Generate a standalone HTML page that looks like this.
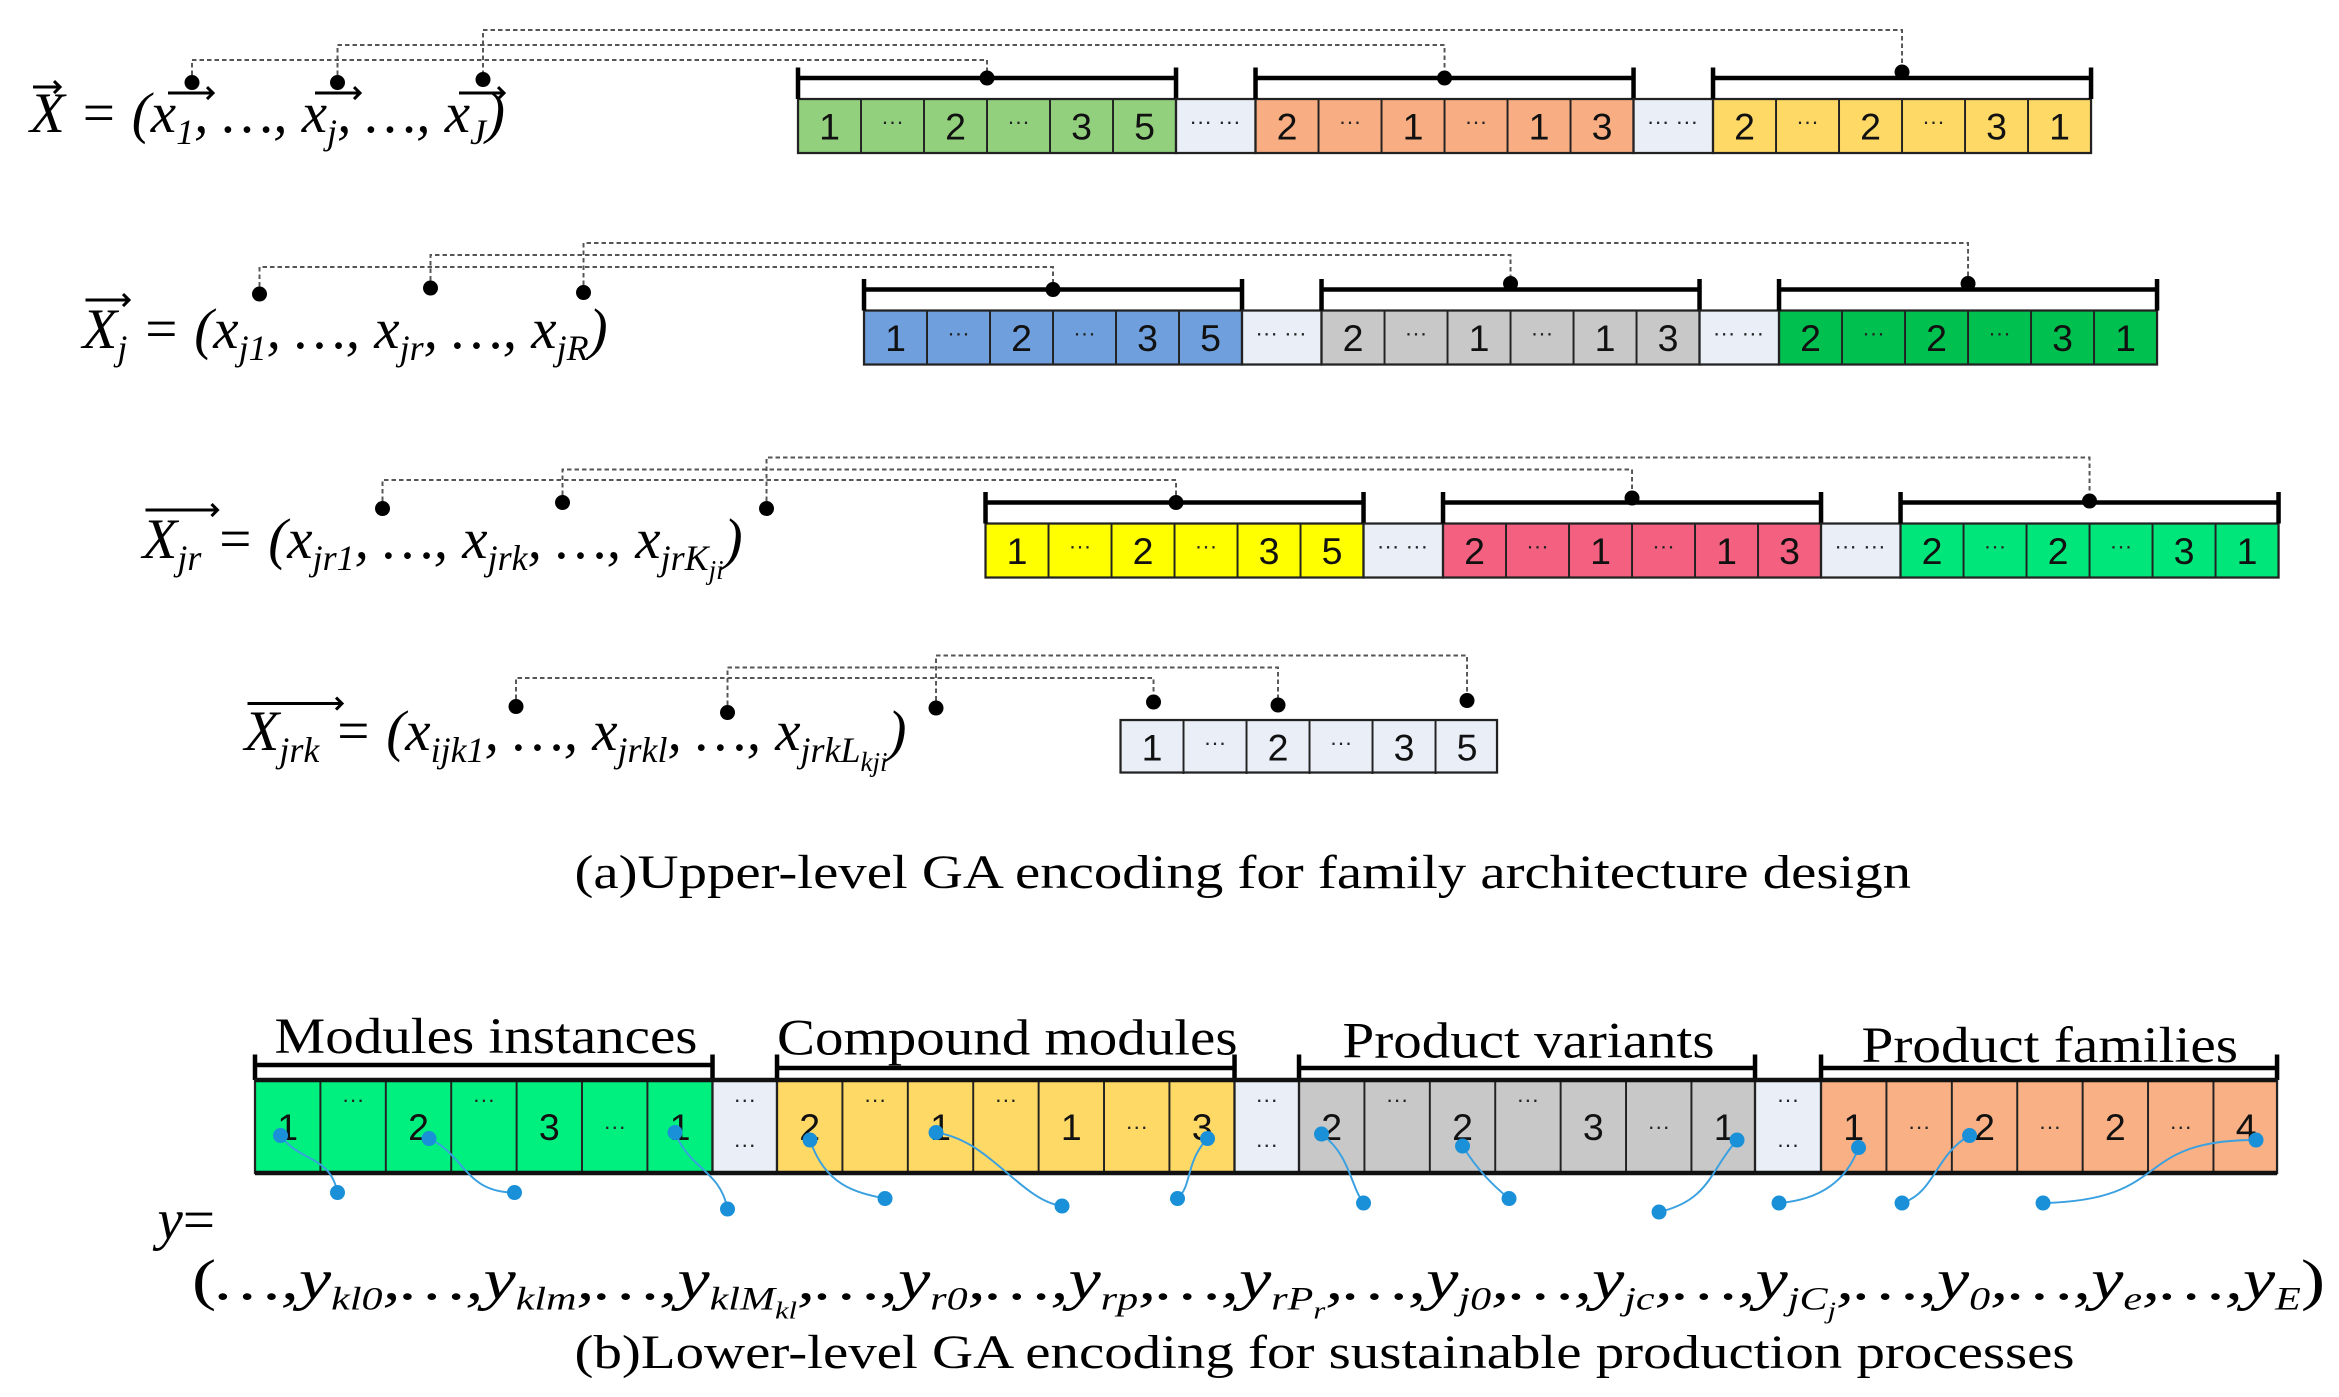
<!DOCTYPE html>
<html><head><meta charset="utf-8"><style>
html,body{margin:0;padding:0;background:#fff;}
svg{display:block;}
.n{font-family:"Liberation Sans",sans-serif;font-size:25px;text-anchor:middle;fill:#111;}
.d{font-family:"Liberation Sans",sans-serif;font-size:15px;text-anchor:middle;fill:#222;}
.f{font-family:"Liberation Serif",serif;font-style:italic;font-size:38px;fill:#000;}
.c{font-family:"Liberation Serif",serif;font-size:32px;fill:#000;}
.h{font-family:"Liberation Serif",serif;font-size:34px;fill:#000;}
.g rect{stroke:#222;stroke-width:1.5;}
.gl{stroke:#222;stroke-width:1.3;}
.br{stroke:#000;stroke-width:3;fill:none;}
.dt{stroke:#555;stroke-width:1.3;stroke-dasharray:3 2;fill:none;}
.bl{stroke:#3aa0e0;stroke-width:1.3;fill:none;}
</style></head><body>
<svg width="2339" height="1397" viewBox="0 0 1559.3 931.3" xmlns="http://www.w3.org/2000/svg">
<defs>
<path id="grid6" class="gl" stroke="#222" stroke-width="1.3" d="M42,0V36M84,0V36M126,0V36M168,0V36M210,0V36"/>
<path id="brk" class="br" stroke="#000" stroke-width="3" fill="none" d="M0,-21V0M0,-14H252M252,-21V0"/>
<path id="grid7" class="gl" stroke="#222" stroke-width="1.3" d="M43.6,0V62M87.2,0V62M130.8,0V62M174.4,0V62M218,0V62M261.6,0V62"/>
</defs>

<!-- ROW 1 -->
<text class="f" x="20" y="88">X = (x<tspan font-size="24" dy="8">1</tspan><tspan dy="-8">, …, x</tspan><tspan font-size="24" dy="8">j</tspan><tspan dy="-8">, …, x</tspan><tspan font-size="24" dy="8">J</tspan><tspan dy="-8">)</tspan></text>
<path d="M22,58H40M36,54L40,58L36,62M112,62H142M138,58L142,62L138,66M210,62H240M236,58L240,62L236,66M306,62H336M332,58L336,62L332,66" stroke="#000" stroke-width="2" fill="none"/>
<path class="dt" d="M128,55V40H658V52M225,55V30H963V52M322,55V20H1268V48"/>
<circle cx="128" cy="55" r="5"/><circle cx="225" cy="55" r="5"/><circle cx="322" cy="53" r="5"/>
<g class="g" transform="translate(532,66)"><rect width="252" height="36" fill="#92d07e"/><use href="#grid6"/><use href="#brk"/><circle cx="126" cy="-14" r="5"/>
<text class="n" x="21" y="27">1</text><text class="d" x="63" y="20">···</text><text class="n" x="105" y="27">2</text><text class="d" x="147" y="20">···</text><text class="n" x="189" y="27">3</text><text class="n" x="231" y="27">5</text></g>
<g class="g" transform="translate(784,66)"><rect width="53" height="36" fill="#e9eef7"/><text class="d" x="26" y="20">··· ···</text></g>
<g class="g" transform="translate(837,66)"><rect width="252" height="36" fill="#f8ad82"/><use href="#grid6"/><use href="#brk"/><circle cx="126" cy="-14" r="5"/>
<text class="n" x="21" y="27">2</text><text class="d" x="63" y="20">···</text><text class="n" x="105" y="27">1</text><text class="d" x="147" y="20">···</text><text class="n" x="189" y="27">1</text><text class="n" x="231" y="27">3</text></g>
<g class="g" transform="translate(1089,66)"><rect width="53" height="36" fill="#e9eef7"/><text class="d" x="26" y="20">··· ···</text></g>
<g class="g" transform="translate(1142,66)"><rect width="252" height="36" fill="#ffd966"/><use href="#grid6"/><use href="#brk"/><circle cx="126" cy="-18" r="5"/>
<text class="n" x="21" y="27">2</text><text class="d" x="63" y="20">···</text><text class="n" x="105" y="27">2</text><text class="d" x="147" y="20">···</text><text class="n" x="189" y="27">3</text><text class="n" x="231" y="27">1</text></g>

<!-- ROW 2 -->
<text class="f" x="55" y="232">X<tspan font-size="24" dy="8">j</tspan><tspan dy="-8"> = (x</tspan><tspan font-size="24" dy="8">j1</tspan><tspan dy="-8">, …, x</tspan><tspan font-size="24" dy="8">jr</tspan><tspan dy="-8">, …, x</tspan><tspan font-size="24" dy="8">jR</tspan><tspan dy="-8">)</tspan></text>
<path d="M57,200H86M82,196L86,200L82,204" stroke="#000" stroke-width="2" fill="none"/>
<path class="dt" d="M173,196V178H702V193M287,192V170H1007V188M389,195V162H1312V188"/>
<circle cx="173" cy="196" r="5"/><circle cx="287" cy="192" r="5"/><circle cx="389" cy="195" r="5"/>
<g class="g" transform="translate(576,207)"><rect width="252" height="36" fill="#6f9fdc"/><use href="#grid6"/><use href="#brk"/><circle cx="126" cy="-14" r="5"/>
<text class="n" x="21" y="27">1</text><text class="d" x="63" y="20">···</text><text class="n" x="105" y="27">2</text><text class="d" x="147" y="20">···</text><text class="n" x="189" y="27">3</text><text class="n" x="231" y="27">5</text></g>
<g class="g" transform="translate(828,207)"><rect width="53" height="36" fill="#e9eef7"/><text class="d" x="26" y="20">··· ···</text></g>
<g class="g" transform="translate(881,207)"><rect width="252" height="36" fill="#c8c8c8"/><use href="#grid6"/><use href="#brk"/><circle cx="126" cy="-18" r="5"/>
<text class="n" x="21" y="27">2</text><text class="d" x="63" y="20">···</text><text class="n" x="105" y="27">1</text><text class="d" x="147" y="20">···</text><text class="n" x="189" y="27">1</text><text class="n" x="231" y="27">3</text></g>
<g class="g" transform="translate(1133,207)"><rect width="53" height="36" fill="#e9eef7"/><text class="d" x="26" y="20">··· ···</text></g>
<g class="g" transform="translate(1186,207)"><rect width="252" height="36" fill="#00c050"/><use href="#grid6"/><use href="#brk"/><circle cx="126" cy="-18" r="5"/>
<text class="n" x="21" y="27">2</text><text class="d" x="63" y="20">···</text><text class="n" x="105" y="27">2</text><text class="d" x="147" y="20">···</text><text class="n" x="189" y="27">3</text><text class="n" x="231" y="27">1</text></g>

<!-- ROW 3 -->
<text class="f" x="95" y="372">X<tspan font-size="24" dy="8">jr</tspan><tspan dy="-8"> = (x</tspan><tspan font-size="24" dy="8">jr1</tspan><tspan dy="-8">, …, x</tspan><tspan font-size="24" dy="8">jrk</tspan><tspan dy="-8">, …, x</tspan><tspan font-size="24" dy="8">jrK</tspan><tspan font-size="18" dy="6">ji</tspan><tspan dy="-14">)</tspan></text>
<path d="M97,340H145M141,336L145,340L141,344" stroke="#000" stroke-width="2" fill="none"/>
<path class="dt" d="M255,339V320H784V336M375,335V313H1088V332M511,339V305H1393V334"/>
<circle cx="255" cy="339" r="5"/><circle cx="375" cy="335" r="5"/><circle cx="511" cy="339" r="5"/>
<g class="g" transform="translate(657,349)"><rect width="252" height="36" fill="#ffff00"/><use href="#grid6"/><use href="#brk"/><circle cx="127" cy="-14" r="5"/>
<text class="n" x="21" y="27">1</text><text class="d" x="63" y="20">···</text><text class="n" x="105" y="27">2</text><text class="d" x="147" y="20">···</text><text class="n" x="189" y="27">3</text><text class="n" x="231" y="27">5</text></g>
<g class="g" transform="translate(909,349)"><rect width="53" height="36" fill="#e9eef7"/><text class="d" x="26" y="20">··· ···</text></g>
<g class="g" transform="translate(962,349)"><rect width="252" height="36" fill="#f4607f"/><use href="#grid6"/><use href="#brk"/><circle cx="126" cy="-17" r="5"/>
<text class="n" x="21" y="27">2</text><text class="d" x="63" y="20">···</text><text class="n" x="105" y="27">1</text><text class="d" x="147" y="20">···</text><text class="n" x="189" y="27">1</text><text class="n" x="231" y="27">3</text></g>
<g class="g" transform="translate(1214,349)"><rect width="53" height="36" fill="#e9eef7"/><text class="d" x="26" y="20">··· ···</text></g>
<g class="g" transform="translate(1267,349)"><rect width="252" height="36" fill="#00e67a"/><use href="#grid6"/><use href="#brk"/><circle cx="126" cy="-15" r="5"/>
<text class="n" x="21" y="27">2</text><text class="d" x="63" y="20">···</text><text class="n" x="105" y="27">2</text><text class="d" x="147" y="20">···</text><text class="n" x="189" y="27">3</text><text class="n" x="231" y="27">1</text></g>

<!-- ROW 4 -->
<text class="f" x="163" y="500">X<tspan font-size="24" dy="8">jrk</tspan><tspan dy="-8"> = (x</tspan><tspan font-size="24" dy="8">ijk1</tspan><tspan dy="-8">, …, x</tspan><tspan font-size="24" dy="8">jrkl</tspan><tspan dy="-8">, …, x</tspan><tspan font-size="24" dy="8">jrkL</tspan><tspan font-size="18" dy="6">kji</tspan><tspan dy="-14">)</tspan></text>
<path d="M165,469H228M224,465L228,469L224,473" stroke="#000" stroke-width="2" fill="none"/>
<path class="dt" d="M344,471V452H769V468M485,475V445H852V470M624,472V437H978V467"/>
<circle cx="344" cy="471" r="5"/><circle cx="485" cy="475" r="5"/><circle cx="624" cy="472" r="5"/>
<circle cx="769" cy="468" r="5"/><circle cx="852" cy="470" r="5"/><circle cx="978" cy="467" r="5"/>
<g class="g" transform="translate(747,480)"><rect width="251" height="35" fill="#e9eef7"/><use href="#grid6"/>
<text class="n" x="21" y="27">1</text><text class="d" x="63" y="20">···</text><text class="n" x="105" y="27">2</text><text class="d" x="147" y="20">···</text><text class="n" x="189" y="27">3</text><text class="n" x="231" y="27">5</text></g>

<text class="c" x="383" y="592" textLength="891" lengthAdjust="spacingAndGlyphs">(a)Upper-level GA encoding for family architecture design</text>

<!-- LOWER -->
<text class="h" x="183" y="702" textLength="282" lengthAdjust="spacingAndGlyphs">Modules instances</text>
<text class="h" x="518" y="703" textLength="307" lengthAdjust="spacingAndGlyphs">Compound modules</text>
<text class="h" x="895" y="705" textLength="248" lengthAdjust="spacingAndGlyphs">Product variants</text>
<text class="h" x="1241" y="708" textLength="251" lengthAdjust="spacingAndGlyphs">Product families</text>
<path class="br" d="M170,703V720M170,710H475M475,703V720M518,703V720M518,712H823M823,703V720M866,703V720M866,712H1170M1170,703V720M1214,703V720M1214,712H1518M1518,703V720"/>

<g class="g" transform="translate(170,720)"><rect width="305" height="62" fill="#00f07f"/><use href="#grid7"/>
<text class="n" x="21.8" y="40">1</text><text class="d" x="65.4" y="18">···</text><text class="n" x="109" y="40">2</text><text class="d" x="152.6" y="18">···</text><text class="n" x="196.2" y="40">3</text><text class="d" x="239.8" y="36">···</text><text class="n" x="283.4" y="40">1</text></g>
<g class="g" transform="translate(475,720)"><rect width="43" height="62" fill="#e9eef7"/><text class="d" x="21.5" y="18">···</text><text class="d" x="21.5" y="48">···</text></g>
<g class="g" transform="translate(518,720)"><rect width="305" height="62" fill="#ffd966"/><use href="#grid7"/>
<text class="n" x="21.8" y="40">2</text><text class="d" x="65.4" y="18">···</text><text class="n" x="109" y="40">1</text><text class="d" x="152.6" y="18">···</text><text class="n" x="196.2" y="40">1</text><text class="d" x="239.8" y="36">···</text><text class="n" x="283.4" y="40">3</text></g>
<g class="g" transform="translate(823,720)"><rect width="43" height="62" fill="#e9eef7"/><text class="d" x="21.5" y="18">···</text><text class="d" x="21.5" y="48">···</text></g>
<g class="g" transform="translate(866,720)"><rect width="304" height="62" fill="#c8c8c8"/><use href="#grid7"/>
<text class="n" x="21.8" y="40">2</text><text class="d" x="65.4" y="18">···</text><text class="n" x="109" y="40">2</text><text class="d" x="152.6" y="18">···</text><text class="n" x="196.2" y="40">3</text><text class="d" x="239.8" y="36">···</text><text class="n" x="283.4" y="40">1</text></g>
<g class="g" transform="translate(1170,720)"><rect width="44" height="62" fill="#e9eef7"/><text class="d" x="22" y="18">···</text><text class="d" x="22" y="48">···</text></g>
<g class="g" transform="translate(1214,720)"><rect width="304" height="62" fill="#f8b084"/><use href="#grid7"/>
<text class="n" x="21.8" y="40">1</text><text class="d" x="65.4" y="36">···</text><text class="n" x="109" y="40">2</text><text class="d" x="152.6" y="36">···</text><text class="n" x="196.2" y="40">2</text><text class="d" x="239.8" y="36">···</text><text class="n" x="283.4" y="40">4</text></g>
<path d="M170,720H1518M170,782H1518" stroke="#111" stroke-width="3"/>

<g fill="#1a90d8">
<path class="bl" d="M187,757C200,775 220,770 225,795M286,759C310,770 310,795 343,795M450,755C460,780 480,780 485,806M540,760C550,790 570,795 590,799M624,755C660,760 680,800 708,804M805,759C790,775 795,790 785,799M881,756C900,770 900,790 909,802M975,764C985,780 995,790 1006,799M1158,760C1140,780 1140,800 1106,808M1239,765C1230,790 1210,800 1186,802M1313,757C1290,770 1290,795 1268,802M1504,760C1420,760 1450,800 1362,802"/>
<circle cx="187" cy="757" r="5"/><circle cx="225" cy="795" r="5"/><circle cx="286" cy="759" r="5"/><circle cx="343" cy="795" r="5"/>
<circle cx="450" cy="755" r="5"/><circle cx="485" cy="806" r="5"/><circle cx="540" cy="760" r="5"/><circle cx="590" cy="799" r="5"/>
<circle cx="624" cy="755" r="5"/><circle cx="708" cy="804" r="5"/><circle cx="805" cy="759" r="5"/><circle cx="785" cy="799" r="5"/>
<circle cx="881" cy="756" r="5"/><circle cx="909" cy="802" r="5"/><circle cx="975" cy="764" r="5"/><circle cx="1006" cy="799" r="5"/>
<circle cx="1158" cy="760" r="5"/><circle cx="1106" cy="808" r="5"/><circle cx="1239" cy="765" r="5"/><circle cx="1186" cy="802" r="5"/>
<circle cx="1313" cy="757" r="5"/><circle cx="1268" cy="802" r="5"/><circle cx="1504" cy="760" r="5"/><circle cx="1362" cy="802" r="5"/>
</g>

<text class="f" x="105" y="826" font-size="34">y<tspan font-style="normal">=</tspan></text>
<text class="f" x="128" y="866" font-size="34" textLength="1422" lengthAdjust="spacingAndGlyphs"><tspan font-style="normal">(</tspan>…,y<tspan font-size="22" dy="7">kl0</tspan><tspan dy="-7">,…,y</tspan><tspan font-size="22" dy="7">klm</tspan><tspan dy="-7">,…,y</tspan><tspan font-size="22" dy="7">klM</tspan><tspan font-size="16" dy="6">kl</tspan><tspan dy="-13">,…,y</tspan><tspan font-size="22" dy="7">r0</tspan><tspan dy="-7">,…,y</tspan><tspan font-size="22" dy="7">rp</tspan><tspan dy="-7">,…,y</tspan><tspan font-size="22" dy="7">rP</tspan><tspan font-size="16" dy="6">r</tspan><tspan dy="-13">,…,y</tspan><tspan font-size="22" dy="7">j0</tspan><tspan dy="-7">,…,y</tspan><tspan font-size="22" dy="7">jc</tspan><tspan dy="-7">,…,y</tspan><tspan font-size="22" dy="7">jC</tspan><tspan font-size="16" dy="6">j</tspan><tspan dy="-13">,…,y</tspan><tspan font-size="22" dy="7">0</tspan><tspan dy="-7">,…,y</tspan><tspan font-size="22" dy="7">e</tspan><tspan dy="-7">,…,y</tspan><tspan font-size="22" dy="7">E</tspan><tspan dy="-7" font-style="normal">)</tspan></text>
<text class="c" x="383" y="912" textLength="1000" lengthAdjust="spacingAndGlyphs">(b)Lower-level GA encoding for sustainable production processes</text>
</svg>
</body></html>
